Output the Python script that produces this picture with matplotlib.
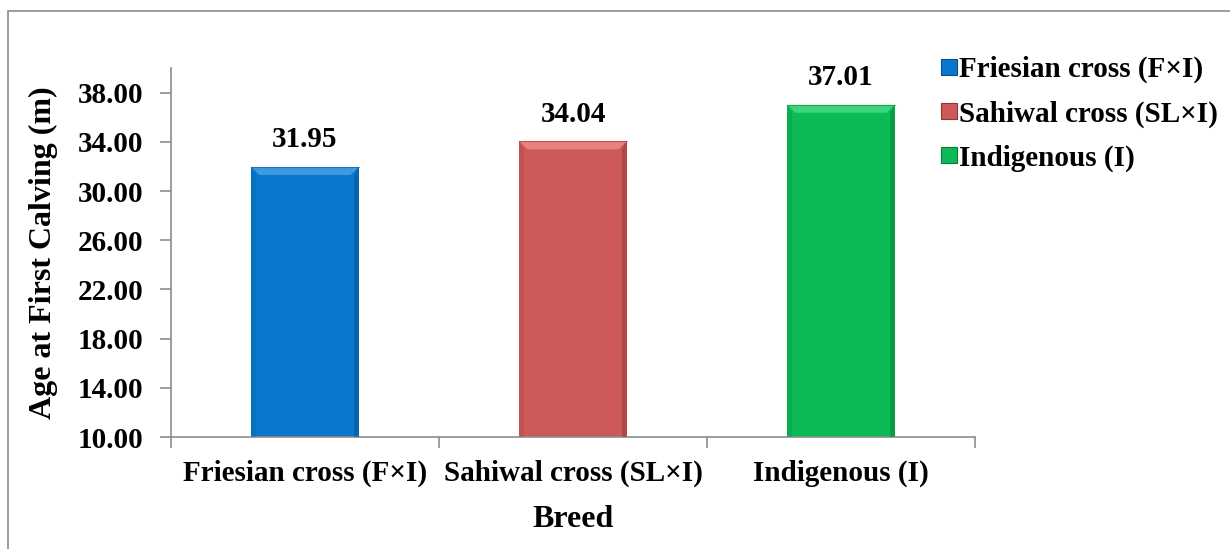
import matplotlib.pyplot as plt
from matplotlib.patches import Polygon, Rectangle
from matplotlib.lines import Line2D
import numpy as np

breeds = ["Friesian cross (F×I)", "Sahiwal cross (SL×I)", "Indigenous (I)"]
afc_values = [31.95, 34.04, 37.01]
y_ticks = [10, 14, 18, 22, 26, 30, 34, 38]

# main, light (top bevel), dark (side/bottom bevel)
colors = ["#0A77CC", "#CD5A59", "#0CBB55"]
light = ["#4BA3E6", "#F08C8A", "#4ADB85"]
dark = ["#05508C", "#8C3635", "#067A37"]

plt.rcParams["font.family"] = ["Liberation Serif", "DejaVu Serif"]
plt.rcParams["font.weight"] = "bold"

W, H = 1230, 549
fig = plt.figure(figsize=(W / 100, H / 100), dpi=100)
ax_rect = [171 / W, 1 - 437 / H, (975 - 171) / W, (437 - 68) / H]
ax = fig.add_axes(ax_rect)

x = np.arange(len(breeds))
bars = ax.bar(x, [v - 10 for v in afc_values], bottom=10, width=0.40,
              color=colors, zorder=2)

ax.set_xlim(-0.5, 2.5)
ax.set_ylim(10, 40)

# bevel edges, sized in pixels
px_x = 3 / (ax_rect[2] * W)
px_y = 30 / (ax_rect[3] * H)
bx, by = 8 * px_x, 8 * px_y
for b, lc, dc in zip(bars, light, dark):
    x0, y0 = b.get_x(), b.get_y()
    x1, y1 = x0 + b.get_width(), y0 + b.get_height()
    ax.add_patch(Polygon([(x0, y1), (x1, y1), (x1 - bx, y1 - by), (x0 + bx, y1 - by)],
                         closed=True, color=lc, lw=0, alpha=0.8, zorder=3))
    ax.add_patch(Polygon([(x1, y1), (x1, y0), (x1 - bx * 0.6, y0), (x1 - bx * 0.6, y1 - by)],
                         closed=True, color=dc, lw=0, alpha=0.45, zorder=3))
    ax.add_patch(Polygon([(x0, y1), (x0, y0), (x0 + bx * 0.6, y0), (x0 + bx * 0.6, y1 - by)],
                         closed=True, color=dc, lw=0, alpha=0.2, zorder=3))
    ax.plot([x0, x1], [y1, y1], color=dc, lw=0.8, alpha=0.5, zorder=4)

for xi, v in zip(x, afc_values):
    ax.text(xi, v + 1.1, f"{v:.2f}", ha="center", va="bottom",
            fontsize=21, fontweight="bold")

ax.set_yticks(y_ticks)
ax.set_yticklabels([f"{t:.2f}" for t in y_ticks], fontsize=21, fontweight="bold")
ax.set_xticks([-0.5, 0.5, 1.5, 2.5])
ax.set_xticklabels([])
ax.set_xticks(x, minor=True)
ax.set_xticklabels(breeds, minor=True, fontsize=21, fontweight="bold")
ax.tick_params(axis="x", which="minor", length=0, pad=16)
ax.tick_params(axis="x", which="major", length=8, width=1.2, color="#8C8C8C", direction="out")
ax.tick_params(axis="y", length=8, width=1.2, color="#8C8C8C", direction="out", pad=12)

for s in ["top", "right"]:
    ax.spines[s].set_visible(False)
for s in ["left", "bottom"]:
    ax.spines[s].set_color("#8C8C8C")
    ax.spines[s].set_linewidth(1.2)

ax.set_ylabel("Age at First Calving (m)", fontsize=23, fontweight="bold", labelpad=14)
ax.set_xlabel("Breed", fontsize=23, fontweight="bold", labelpad=13)

handles = [Line2D([0], [0], marker="s", linestyle="none", markersize=11,
                  markerfacecolor=c, markeredgecolor=d, markeredgewidth=0.8)
           for c, d in zip(colors, dark)]
fig.legend(handles, breeds, loc="upper left", bbox_to_anchor=(0.742, 0.935),
           frameon=False, prop={"size": 21, "weight": "bold"},
           handletextpad=-0.2, labelspacing=0.58, handlelength=1.1,
           borderpad=0.2)

fig.add_artist(Rectangle((8 / W, -0.05), 1.1, 1 - 11 / H + 0.05,
                         transform=fig.transFigure, fill=False,
                         edgecolor="#8C8C8C", lw=1.2))

fig.savefig("out.png", dpi=100)
